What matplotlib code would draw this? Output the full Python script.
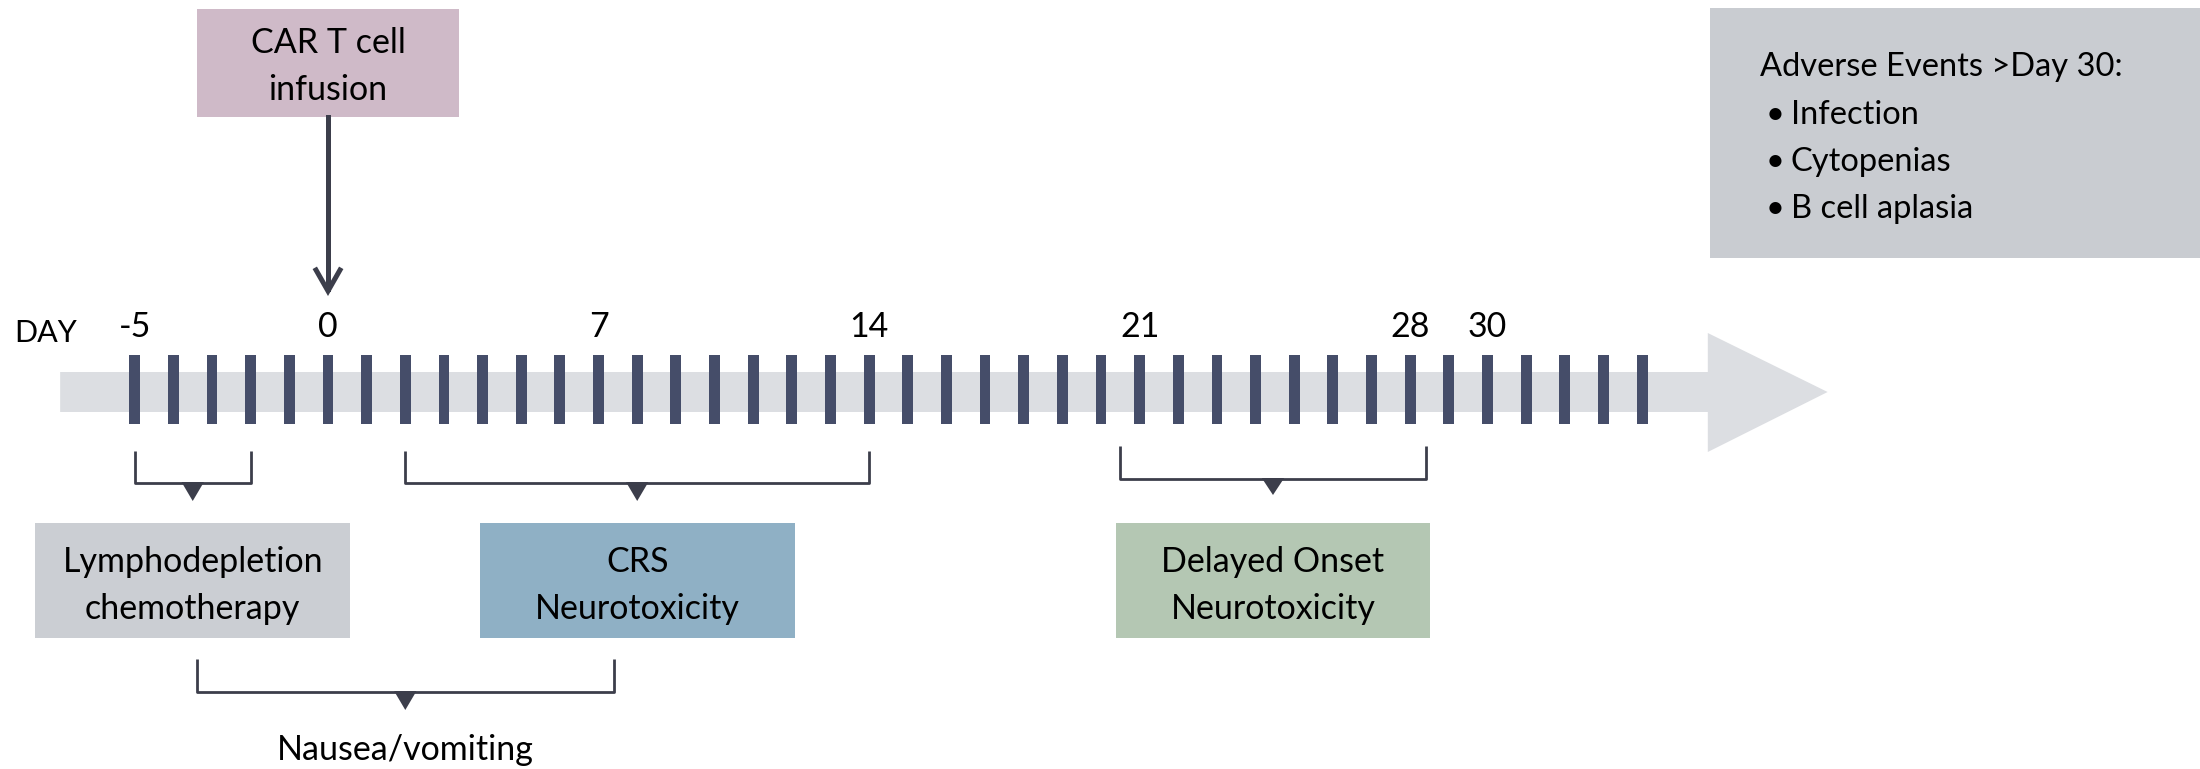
import numpy as np
import matplotlib.pyplot as plt
from matplotlib.patches import Polygon, Rectangle

plt.rcParams['font.family'] = ['Lato', 'DejaVu Sans']

# timeline data
days = np.arange(-5, 35)
labeled_days = [-5, 0, 7, 14, 21, 28, 30]

infusion_day = 0
infusion_label = ['CAR T cell', 'infusion']

# toxicity windows under the timeline (start day, end day)
phase_labels = [['Lymphodepletion', 'chemotherapy'],
                ['CRS', 'Neurotoxicity'],
                ['Delayed Onset', 'Neurotoxicity']]
phase_spans = [(-5, -2), (2, 14), (20.5, 28.4)]
phase_colors = ['#cbced3', '#8fb0c5', '#b4c7b3']

nausea_label = 'Nausea/vomiting'
nausea_span = (-3.4, 7.4)

late_title = 'Adverse Events >Day 30:'
late_events = ['Infection', 'Cytopenias', 'B cell aplasia']

# style
DARK = '#3c3e4b'
TICK = '#454d69'
BAND = '#dcdee2'
FS = 24.5

# x in days, y in pixels from the top
X0 = 328
PX = 38.65

fig = plt.figure(figsize=(22, 7.69), dpi=100)
ax = fig.add_axes([0, 0, 1, 1])
ax.set_xlim(-X0 / PX, (2200 - X0) / PX)
ax.set_ylim(769, 0)
ax.axis('off')

# grey timeline arrow
b0 = days[0] - 1.93
b1 = days[-1] + 1.7
tip = b1 + 3.1
band = Polygon([(b0, 372), (b1, 372), (b1, 333), (tip, 392),
                (b1, 452), (b1, 412), (b0, 412)], closed=True,
               facecolor=BAND, edgecolor='none')
ax.add_patch(band)

# day ticks
ax.bar(days, 69, bottom=355, width=0.28, color=TICK)
for d in labeled_days:
    ax.text(d, 337, str(d), ha='center', va='baseline', fontsize=FS)
ax.text(-8.12, 342, 'DAY', ha='left', va='baseline', fontsize=22)

# CAR T infusion box + arrow
ax.add_patch(Rectangle((infusion_day - 3.4, 9), 6.8, 108,
                       facecolor='#cfbac8', edgecolor='none'))
ax.text(infusion_day, 53, infusion_label[0], ha='center', va='baseline', fontsize=FS)
ax.text(infusion_day, 100, infusion_label[1], ha='center', va='baseline', fontsize=FS)
ax.plot([infusion_day, infusion_day], [117, 289], color=DARK, lw=3.6)
ax.plot([infusion_day - 0.31, infusion_day, infusion_day + 0.31], [270, 291, 270],
        color=DARK, lw=3.6, solid_joinstyle='miter')


def bracket(x0, x1, ytop, ybot, depth=18):
    ax.plot([x0, x0, x1, x1], [ytop, ybot, ybot, ytop], color=DARK, lw=2,
            solid_joinstyle='round', solid_capstyle='butt')
    xm = (x0 + x1) / 2
    ax.add_patch(Polygon([(xm - 0.29, ybot - 1), (xm + 0.29, ybot - 1), (xm, ybot + depth)],
                         closed=True, facecolor=DARK, edgecolor='none'))


# phase brackets and boxes
for i, (s, e) in enumerate(phase_spans):
    if i == 2:
        bracket(s, e, 446, 479, 16)
    else:
        bracket(s, e, 451, 483, 18)
    c = (s + e) / 2
    ax.add_patch(Rectangle((c - 4.07, 523), 8.14, 115,
                           facecolor=phase_colors[i], edgecolor='none'))
    ax.text(c, 572, phase_labels[i][0], ha='center', va='baseline', fontsize=FS)
    ax.text(c, 619, phase_labels[i][1], ha='center', va='baseline', fontsize=FS)

# nausea bracket
bracket(nausea_span[0], nausea_span[1], 659, 692, 18)
ax.text(sum(nausea_span) / 2, 760, nausea_label, ha='center', va='baseline', fontsize=FS)

# late adverse events box
ax.add_patch(Rectangle((35.76, 8), 20, 250, facecolor='#c9ccd1', edgecolor='none'))
ax.text(37.05, 76, late_title, ha='left', va='baseline', fontsize=23.5)
for k, ev in enumerate(late_events):
    y = 124 + k * 47
    ax.text(37.2, y, '\u2022', ha='left', va='baseline', fontsize=23.5)
    ax.text(37.85, y, ev, ha='left', va='baseline', fontsize=23.5)

fig.savefig('out.png', dpi=100)
